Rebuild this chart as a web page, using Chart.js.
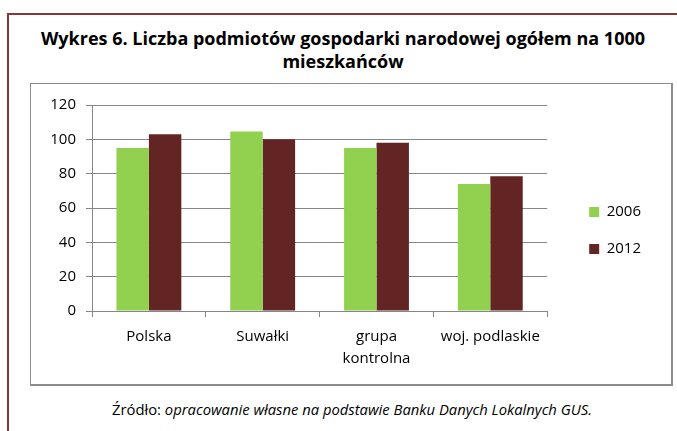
<!DOCTYPE html>
<html>
<head>
<meta charset="utf-8">
<script src="https://cdn.jsdelivr.net/npm/chart.js@4/dist/chart.umd.min.js"></script>
<style>
  html, body { margin: 0; padding: 0; background: #fff; width: 677px; height: 431px; overflow: hidden; }
  body { position: relative; font-family: "Open Sans", sans-serif; }
  #frame { position: absolute; left: 7px; top: 13px; width: 720px; height: 500px;
           border-left: 2px solid #8a3433; border-top: 2px solid #8a3433; }
  #title { position: absolute; left: 7px; width: 672px; top: 27px; text-align: center;
           font-weight: bold; font-size: 18px; line-height: 23px; color: #000; }
  #box { position: absolute; left: 30px; top: 83px; width: 640px; height: 300px;
         border: 1px solid #8c8c8c; border-right-width: 2px; border-bottom-width: 2px; }
  #wrap { position: absolute; left: 31px; top: 84px; width: 640px; height: 300px; }
  #source { position: absolute; left: 7px; width: 690px; top: 399px; text-align: center;
            font-size: 14.8px; color: #000; }
</style>
</head>
<body>
<div id="frame"></div>
<div id="title">Wykres 6. Liczba podmiotów gospodarki narodowej ogółem na 1000<br>mieszkańców</div>
<div id="box"></div>
<div id="wrap"><canvas id="c" width="640" height="300"></canvas></div>
<div id="source">Źródło: <i>opracowanie własne na podstawie Banku Danych Lokalnych GUS.</i></div>
<script>
const categories = ['Polska', 'Suwałki', ['grupa', 'kontrolna'], 'woj. podlaskie'];
const seriesNames = ['2006', '2012'];
const values2006 = [95, 104.5, 95, 74];
const values2012 = [103, 100, 98, 78.5];
const yTicks = [0, 20, 40, 60, 80, 100, 120];

const FONT = "'Open Sans', sans-serif";

new Chart(document.getElementById('c'), {
  type: 'bar',
  data: {
    labels: categories,
    datasets: [
      { label: seriesNames[0], data: values2006, backgroundColor: '#92d050',
        categoryPercentage: 0.57, barPercentage: 1.0, yAxisID: 'y' },
      { label: seriesNames[1], data: values2012, backgroundColor: '#632523',
        categoryPercentage: 0.57, barPercentage: 1.0, yAxisID: 'y' }
    ]
  },
  options: {
    responsive: false,
    animation: false,
    devicePixelRatio: 1,
    layout: { padding: { top: 0, right: 20, bottom: 7, left: 0 } },
    plugins: {
      title: { display: false },
      tooltip: { enabled: false },
      legend: {
        position: 'right',
        align: 'center',
        labels: {
          boxWidth: 10, boxHeight: 10, padding: 22,
          color: '#000', font: { family: FONT, size: 15 }
        }
      }
    },
    scales: {
      x: {
        grid: { display: true, drawOnChartArea: false, offset: true, color: '#868686', tickLength: 6 },
        border: { display: true, color: '#868686' },
        ticks: { color: '#000', font: { family: FONT, size: 15, lineHeight: 1.5 }, padding: 8, maxRotation: 0, autoSkip: false },
        afterFit: s => { s.height = 66; }
      },
      topSpacer: {
        type: 'linear',
        axis: 'x',
        position: 'top',
        display: true,
        grid: { display: false },
        border: { display: false },
        ticks: { display: false },
        afterFit: s => { s.height = 21; }
      },
      y: {
        min: 0, max: 120,
        afterBuildTicks: s => { s.ticks = yTicks.map(v => ({ value: v })); },
        grid: { color: '#868686', tickLength: 6 },
        border: { display: true, color: '#868686' },
        ticks: { color: '#000', font: { family: FONT, size: 15 }, padding: 10 },
        afterFit: s => { s.width = 61; }
      },
      spacer: {
        type: 'linear',
        axis: 'y',
        position: 'right',
        display: true,
        grid: { display: false },
        border: { display: false },
        ticks: { display: false },
        afterFit: s => { s.width = 20; }
      }
    }
  }
});
</script>
</body>
</html>
